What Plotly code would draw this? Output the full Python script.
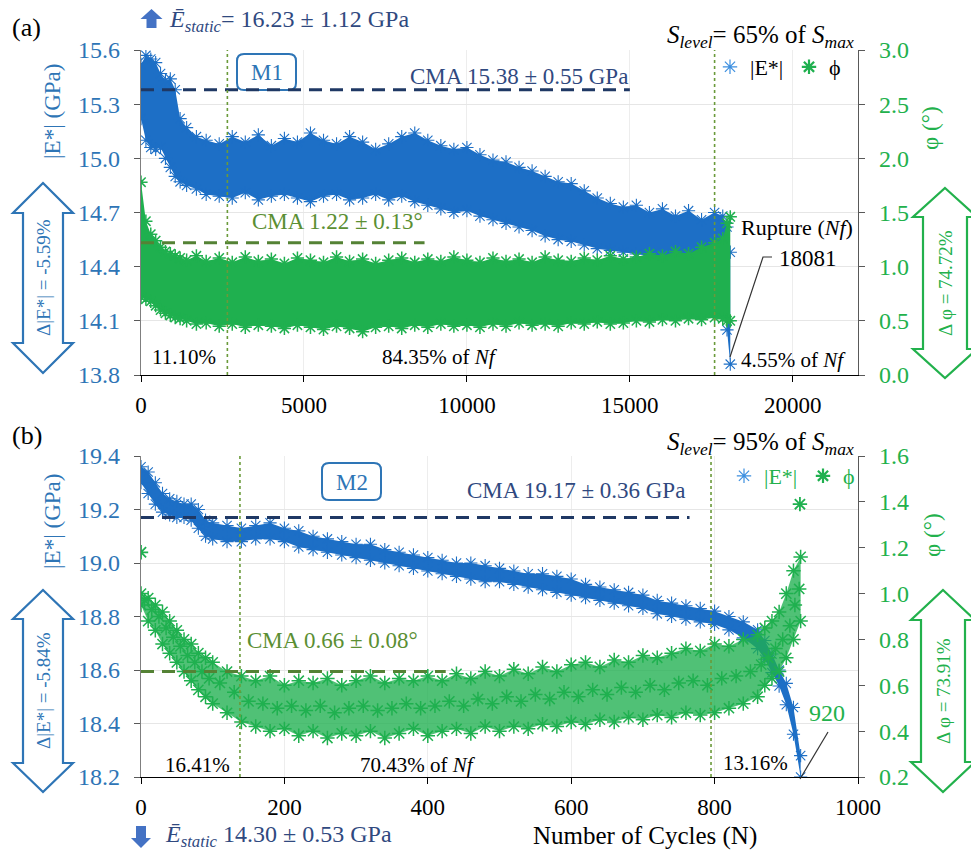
import plotly.graph_objects as go

SERIF = "Liberation Serif, Times New Roman, serif"
W, H = 971, 855

# ---------------- panel (a): S_level = 65 % ----------------
cycles_a = [0, 150, 300, 450, 600, 750, 900, 1050, 1200, 1400, 1700, 2000,
            2400, 2800, 3200, 3600, 4000, 4400, 4800, 5200, 5600, 6000, 6400, 6800,
            7200, 7600, 8000, 8400, 8800, 9200, 9600, 10000, 10400, 10800, 11200,
            11600, 12000, 12400, 12800, 13200, 13600, 14000, 14400, 14800, 15200,
            15600, 16000, 16400, 16800, 17200, 17600, 17850, 17980, 18081]
e_top_a = [15.52, 15.57, 15.55, 15.53, 15.47, 15.43, 15.44, 15.38, 15.22, 15.17, 15.12, 15.10,
           15.08, 15.12, 15.09, 15.13, 15.07, 15.11, 15.09, 15.14, 15.10, 15.08, 15.12, 15.09,
           15.05, 15.08, 15.12, 15.14, 15.10, 15.07, 15.05, 15.06, 15.02, 14.99, 14.98,
           14.95, 14.93, 14.90, 14.87, 14.86, 14.82, 14.78, 14.75, 14.73, 14.74,
           14.70, 14.72, 14.68, 14.71, 14.66, 14.70, 14.68, 14.62, 14.48]
e_bot_a = [15.22, 15.10, 15.06, 15.05, 15.06, 15.00, 14.95, 14.90, 14.87, 14.85, 14.83, 14.80,
           14.79, 14.78, 14.81, 14.77, 14.79, 14.80, 14.78, 14.76, 14.79, 14.80, 14.77, 14.78,
           14.80, 14.77, 14.79, 14.76, 14.74, 14.72, 14.70, 14.71, 14.68, 14.66, 14.64,
           14.62, 14.60, 14.57, 14.55, 14.54, 14.52, 14.50, 14.49, 14.48, 14.47,
           14.46, 14.45, 14.46, 14.44, 14.45, 14.43, 14.42, 14.05, 13.86]
phi_top_a = [1.78, 1.42, 1.30, 1.24, 1.18, 1.14, 1.12, 1.10, 1.08, 1.06, 1.10, 1.05,
             1.08, 1.04, 1.09, 1.05, 1.07, 1.03, 1.08, 1.06, 1.04, 1.09, 1.05, 1.07,
             1.03, 1.06, 1.08, 1.04, 1.07, 1.05, 1.09, 1.06, 1.04, 1.08, 1.05,
             1.07, 1.04, 1.09, 1.06, 1.05, 1.08, 1.06, 1.10, 1.07, 1.09,
             1.12, 1.10, 1.14, 1.12, 1.18, 1.22, 1.26, 1.40, 1.46]
phi_bot_a = [0.72, 0.70, 0.68, 0.64, 0.60, 0.57, 0.55, 0.53, 0.52, 0.50, 0.47, 0.48,
             0.45, 0.47, 0.44, 0.46, 0.45, 0.43, 0.46, 0.44, 0.42, 0.45, 0.43, 0.40,
             0.44, 0.45, 0.43, 0.46, 0.44, 0.47, 0.45, 0.46, 0.44, 0.47, 0.45,
             0.48, 0.46, 0.47, 0.45, 0.48, 0.47, 0.49, 0.47, 0.48, 0.50,
             0.49, 0.51, 0.50, 0.52, 0.51, 0.53, 0.52, 0.50, 0.50]

# ---------------- panel (b): S_level = 95 % ----------------
cycles_b = [0, 10, 20, 30, 40, 50, 60, 70, 80, 90, 100,
            120, 140, 160, 180, 200, 220, 240, 260, 280, 300, 320, 340, 360, 380, 400,
            420, 440, 460, 480, 500, 520, 540, 560, 580, 600, 620, 640, 660, 680, 700,
            720, 740, 760, 780, 800, 820, 840, 860,
            870, 880, 890, 900, 910, 920]
e_top_b = [19.36, 19.34, 19.30, 19.26, 19.24, 19.23, 19.22, 19.22, 19.20, 19.16, 19.15,
           19.14, 19.13, 19.14, 19.15, 19.13, 19.12, 19.10, 19.09, 19.08, 19.07, 19.07, 19.05, 19.04, 19.03, 19.02,
           19.01, 19.00, 19.00, 18.99, 18.98, 18.97, 18.96, 18.96, 18.95, 18.94, 18.92, 18.91, 18.90, 18.89, 18.88,
           18.86, 18.85, 18.84, 18.83, 18.82, 18.80, 18.78, 18.75,
           18.71, 18.66, 18.60, 18.55, 18.46, 18.28]
e_bot_b = [19.30, 19.26, 19.22, 19.19, 19.18, 19.17, 19.17, 19.16, 19.13, 19.10, 19.09,
           19.08, 19.08, 19.09, 19.09, 19.08, 19.06, 19.05, 19.04, 19.03, 19.02, 19.01, 19.00, 18.99, 18.98, 18.97,
           18.96, 18.95, 18.94, 18.93, 18.93, 18.92, 18.91, 18.90, 18.89, 18.88, 18.87, 18.86, 18.85, 18.84, 18.83,
           18.81, 18.80, 18.79, 18.78, 18.77, 18.75, 18.72, 18.68,
           18.64, 18.59, 18.54, 18.47, 18.36, 18.20]
phi_top_b = [1.00, 0.98, 0.95, 0.92, 0.88, 0.84, 0.80, 0.78, 0.74, 0.72, 0.70,
             0.66, 0.64, 0.62, 0.64, 0.60, 0.62, 0.61, 0.63, 0.60, 0.62, 0.64, 0.61, 0.63, 0.62, 0.64,
             0.62, 0.65, 0.63, 0.66, 0.64, 0.67, 0.65, 0.68, 0.66, 0.69, 0.70, 0.68, 0.71, 0.70, 0.73,
             0.72, 0.74, 0.76, 0.75, 0.78, 0.77, 0.80, 0.82,
             0.85, 0.88, 0.92, 1.00, 1.10, 1.16]
phi_bot_b = [0.95, 0.88, 0.84, 0.78, 0.74, 0.70, 0.66, 0.62, 0.58, 0.55, 0.52,
             0.48, 0.44, 0.42, 0.40, 0.41, 0.38, 0.40, 0.37, 0.39, 0.38, 0.40, 0.37, 0.39, 0.41, 0.38,
             0.40, 0.41, 0.39, 0.42, 0.40, 0.42, 0.41, 0.43, 0.42, 0.44, 0.43, 0.45, 0.44, 0.46, 0.45,
             0.47, 0.46, 0.48, 0.47, 0.48, 0.50, 0.52, 0.55,
             0.60, 0.63, 0.66, 0.72, 0.80, 0.88]
# readings from the interior of the phase-angle cloud
cycles_mid_b = [5, 15, 25, 35, 45, 55, 65, 75, 85, 95,
                110, 130, 150, 170, 190, 210, 230, 250, 270, 290, 310, 330, 350, 370, 390,
                410, 430, 450, 470, 490, 510, 530, 550, 570, 590, 610, 630, 650, 670, 690,
                710, 730, 750, 770, 790, 810, 830, 850,
                865, 875, 885, 895, 905, 912, 918]
phi_mid_b = [0.97, 0.93, 0.90, 0.85, 0.81, 0.77, 0.73, 0.70, 0.66, 0.63, 0.61,
             0.57, 0.53, 0.52, 0.50, 0.51, 0.49, 0.51, 0.48, 0.50, 0.51, 0.49, 0.50, 0.52, 0.50, 0.51,
             0.53, 0.51, 0.54, 0.52, 0.55, 0.53, 0.56, 0.54, 0.57, 0.55, 0.58, 0.56, 0.59, 0.57, 0.60,
             0.58, 0.61, 0.62, 0.60, 0.63, 0.64, 0.66, 0.69,
             0.72, 0.76, 0.80, 0.86, 0.95, 1.02]
phi_lone_x_b = [0, 919]
phi_lone_y_b = [1.18, 1.39]

# cyclic moving averages and the cycle counts that split the three phases
cma_e_a, cma_e_end_a = 15.38, 15000
cma_phi_a, cma_phi_end_a = 1.22, 8700
cma_e_b, cma_e_end_b = 19.17, 765
cma_phi_b, cma_phi_end_b = 0.66, 425
phase_marks_a = [2650, 17600]
phase_marks_b = [138, 795]

# ---------------- styling ----------------
BLUE = "#1d6fc6"
GREEN = "#1fb04f"
AX_BLUE = "#2e75b6"
AX_GREEN = "#22b14c"
NAVY = "#1f3864"
NAVY_TXT = "#30497f"
OLIVE = "#548235"
OLIVE_TXT = "#5b8f33"
DOT = "#6a9a3a"


def px(x):
    return x / W


def py(y):
    return 1 - y / H


def star(color, size=11, width=1.1):
    return dict(symbol="asterisk-open", size=size, color=color, line=dict(width=width, color=color))


def band(fig, x, lo, hi, color, xa, ya, fillcolor, size=11, width=1.1):
    """Filled envelope between the lower and upper scatter edges, plus the edge markers."""
    fig.add_trace(go.Scatter(x=x, y=lo, mode="lines", line=dict(width=0, color=color),
                             showlegend=False, xaxis=xa, yaxis=ya, hoverinfo="skip"))
    fig.add_trace(go.Scatter(x=x, y=hi, mode="lines", line=dict(width=0, color=color),
                             fill="tonexty", fillcolor=fillcolor, showlegend=False,
                             xaxis=xa, yaxis=ya, hoverinfo="skip"))
    for edge in (lo, hi):
        fig.add_trace(go.Scatter(x=x, y=edge, mode="markers", marker=star(color, size, width),
                                 showlegend=False, xaxis=xa, yaxis=ya, hoverinfo="skip"))


fig = go.Figure()

# panel (a)
band(fig, cycles_a, e_bot_a, e_top_a, BLUE, "x", "y", BLUE)
band(fig, cycles_a, phi_bot_a, phi_top_a, GREEN, "x", "y2", GREEN, width=1.5)
fig.add_trace(go.Scatter(x=[0, cma_e_end_a], y=[cma_e_a, cma_e_a], mode="lines",
                         line=dict(color=NAVY, width=3, dash="13px,8px"),
                         showlegend=False, xaxis="x", yaxis="y"))
fig.add_trace(go.Scatter(x=[0, cma_phi_end_a], y=[cma_phi_a, cma_phi_a], mode="lines",
                         line=dict(color=OLIVE, width=3, dash="13px,8px"),
                         showlegend=False, xaxis="x", yaxis="y2"))

# panel (b)
band(fig, cycles_b, e_bot_b, e_top_b, BLUE, "x2", "y3", BLUE)
band(fig, cycles_b, phi_bot_b, phi_top_b, GREEN, "x2", "y4", "rgba(31,176,79,0.78)", size=12, width=1.5)
fig.add_trace(go.Scatter(x=cycles_mid_b, y=phi_mid_b, mode="markers", marker=star(GREEN, 12, 1.5),
                         showlegend=False, xaxis="x2", yaxis="y4", hoverinfo="skip"))
fig.add_trace(go.Scatter(x=phi_lone_x_b, y=phi_lone_y_b, mode="markers", marker=star(GREEN, 12, 1.8),
                         showlegend=False, xaxis="x2", yaxis="y4"))
fig.add_trace(go.Scatter(x=[0, cma_e_end_b], y=[cma_e_b, cma_e_b], mode="lines",
                         line=dict(color=NAVY, width=3, dash="13px,8px"),
                         showlegend=False, xaxis="x2", yaxis="y3"))
fig.add_trace(go.Scatter(x=[0, cma_phi_end_b], y=[cma_phi_b, cma_phi_b], mode="lines",
                         line=dict(color=OLIVE, width=3, dash="13px,8px"),
                         showlegend=False, xaxis="x2", yaxis="y4"))

# legend entries
for lg, xa, ya1, ya2 in (("legend", "x", "y", "y2"), ("legend2", "x2", "y3", "y4")):
    fig.add_trace(go.Scatter(x=[None], y=[None], mode="markers", name="|E*|", legend=lg,
                             marker=star("#3c8fe0", 12, 1.2), xaxis=xa, yaxis=ya1))
    fig.add_trace(go.Scatter(x=[None], y=[None], mode="markers", name="ϕ", legend=lg,
                             marker=star(GREEN, 12, 2.2), xaxis=xa, yaxis=ya2))

x_common = dict(ticks="outside", ticklen=6, tickcolor="black", showline=True, linecolor="black",
                linewidth=1.2, showgrid=True, gridcolor="#ededed", zeroline=False, automargin=False,
                tickfont=dict(family=SERIF, size=23, color="black"), tickformat="d",
                ticklabelstandoff=3)
yl_common = dict(ticks="outside", ticklen=6, tickcolor="#595959", showline=True, linecolor="#7f7f7f",
                 linewidth=1.2, showgrid=True, gridcolor="#e6e6e6", zeroline=False, automargin=False,
                 tickfont=dict(family=SERIF, size=24, color=AX_BLUE), tickformat=".1f",
                 ticklabelstandoff=9)
yr_common = dict(ticks="outside", ticklen=6, tickcolor="#595959", showline=True, linecolor="#595959",
                 linewidth=1.2, showgrid=False, zeroline=False, automargin=False,
                 tickfont=dict(family=SERIF, size=24, color=AX_GREEN), tickformat=".1f",
                 ticklabelstandoff=9)

legend_common = dict(xanchor="left", yanchor="top", orientation="h", bgcolor="rgba(0,0,0,0)",
                     itemwidth=30, itemclick=False, itemdoubleclick=False, traceorder="normal",
                     entrywidth=34, entrywidthmode="pixels")

fig.update_layout(
    width=W, height=H, margin=dict(l=0, r=0, t=0, b=0, pad=0), autosize=False,
    paper_bgcolor="white", plot_bgcolor="white",
    xaxis=dict(x_common, domain=[px(141), px(858)], anchor="y", range=[0, 22000],
               tickvals=[0, 5000, 10000, 15000, 20000]),
    yaxis=dict(yl_common, domain=[py(375), py(50)], anchor="x", range=[13.8, 15.6],
               tickvals=[13.8, 14.1, 14.4, 14.7, 15.0, 15.3, 15.6]),
    yaxis2=dict(yr_common, overlaying="y", side="right", anchor="x", range=[0, 3],
                tickvals=[0, 0.5, 1.0, 1.5, 2.0, 2.5, 3.0]),
    xaxis2=dict(x_common, domain=[px(141), px(858)], anchor="y3", range=[0, 1000],
                tickvals=[0, 200, 400, 600, 800, 1000]),
    yaxis3=dict(yl_common, domain=[py(777), py(456)], anchor="x2", range=[18.2, 19.4],
                tickvals=[18.2, 18.4, 18.6, 18.8, 19.0, 19.2, 19.4]),
    yaxis4=dict(yr_common, overlaying="y3", side="right", anchor="x2", range=[0.2, 1.6],
                tickvals=[0.2, 0.4, 0.6, 0.8, 1.0, 1.2, 1.4, 1.6]),
    legend=dict(legend_common, x=px(710), y=py(46),
                font=dict(family=SERIF, size=22, color="black")),
    legend2=dict(legend_common, x=px(724), y=py(455),
                 font=dict(family=SERIF, size=22, color=AX_GREEN)),
    showlegend=True,
)


def note(x, y, text, size=22, color="black", xanchor="center", angle=0):
    return dict(x=px(x), y=py(y), xref="paper", yref="paper", text=text, showarrow=False,
                font=dict(family=SERIF, size=size, color=color), xanchor=xanchor,
                yanchor="middle", textangle=angle)


E_BAR = "<i>Ē</i><sub><i>static</i></sub>"
S_LVL = "<i>S</i><sub><i>level</i></sub>"
S_MAX = "<i>S</i><sub><i>max</i></sub>"

notes = [
    note(10, 28, "(a)", 26, xanchor="left"),
    note(167, 21, E_BAR + "= 16.23 ± 1.12 GPa", 24, NAVY_TXT, "left"),
    note(856, 37, S_LVL + "= 65% of " + S_MAX, 25, "black", "right"),
    note(267, 72, "M1", 23, AX_BLUE),
    note(408, 77, "CMA 15.38 ± 0.55 GPa", 23, NAVY_TXT, "left"),
    note(250, 222, "CMA 1.22 ± 0.13°", 23, OLIVE_TXT, "left"),
    note(184, 357, "11.10%", 21),
    note(440, 357, "84.35% of <i>Nf</i>", 21),
    note(793, 360, "4.55% of <i>Nf</i>", 21),
    note(797, 228, "Rupture (<i>Nf</i>)", 22),
    note(808, 258, "18081", 23),
    note(52, 112, "|E*| (GPa)", 23, AX_BLUE, angle=-90),
    note(931, 128, "φ (°)", 23, AX_GREEN, angle=-90),
    note(43, 278, "Δ|E*| = -5.59%", 19, AX_BLUE, angle=-90),
    note(945, 283, "Δ φ = 74.72%", 19, AX_GREEN, angle=-90),

    note(10, 435, "(b)", 26, xanchor="left"),
    note(856, 444, S_LVL + "= 95% of " + S_MAX, 25, "black", "right"),
    note(352, 482, "M2", 23, AX_BLUE),
    note(465, 490, "CMA 19.17 ± 0.36 GPa", 23, NAVY_TXT, "left"),
    note(245, 640, "CMA 0.66 ± 0.08°", 23, OLIVE_TXT, "left"),
    note(197, 765, "16.41%", 21),
    note(418, 765, "70.43% of <i>Nf</i>", 21),
    note(755, 763, "13.16%", 21),
    note(827, 713, "920", 24, AX_GREEN),
    note(52, 522, "|E*| (GPa)", 23, AX_BLUE, angle=-90),
    note(932, 535, "φ (°)", 23, AX_GREEN, angle=-90),
    note(43, 691, "Δ|E*| = -5.84%", 19, AX_BLUE, angle=-90),
    note(943, 691, "Δ φ = 73.91%", 19, AX_GREEN, angle=-90),
    note(163, 836, E_BAR + " 14.30 ± 0.53 GPa", 24, NAVY_TXT, "left"),
    note(645, 836, "Number of Cycles (N)", 25),
]


def path(points, close=True):
    s = "M " + " L ".join(f"{px(x):.5f},{py(y):.5f}" for x, y in points)
    return s + (" Z" if close else "")


def double_arrow(cx, top, bottom, head_half, shaft_half, head_len, color):
    pts = [(cx, top), (cx + head_half, top + head_len), (cx + shaft_half, top + head_len),
           (cx + shaft_half, bottom - head_len), (cx + head_half, bottom - head_len), (cx, bottom),
           (cx - head_half, bottom - head_len), (cx - shaft_half, bottom - head_len),
           (cx - shaft_half, top + head_len), (cx - head_half, top + head_len)]
    return dict(type="path", xref="paper", yref="paper", path=path(pts),
                line=dict(color=color, width=2.2), fillcolor="rgba(0,0,0,0)", layer="above")


def rounded_box(x0, y0, x1, y1, r, color):
    p = (f"M {px(x0 + r)},{py(y0)} L {px(x1 - r)},{py(y0)} Q {px(x1)},{py(y0)} {px(x1)},{py(y0 + r)} "
         f"L {px(x1)},{py(y1 - r)} Q {px(x1)},{py(y1)} {px(x1 - r)},{py(y1)} "
         f"L {px(x0 + r)},{py(y1)} Q {px(x0)},{py(y1)} {px(x0)},{py(y1 - r)} "
         f"L {px(x0)},{py(y0 + r)} Q {px(x0)},{py(y0)} {px(x0 + r)},{py(y0)} Z")
    return dict(type="path", xref="paper", yref="paper", path=p,
                line=dict(color=color, width=2), fillcolor="white", layer="below")


def block_arrow(cx, tip, tail, head_half, shaft_half, head_len, color):
    d = 1 if tail > tip else -1
    base = tip + d * head_len
    pts = [(cx, tip), (cx + head_half, base), (cx + shaft_half, base), (cx + shaft_half, tail),
           (cx - shaft_half, tail), (cx - shaft_half, base), (cx - head_half, base)]
    return dict(type="path", xref="paper", yref="paper", path=path(pts),
                line=dict(color=color, width=0), fillcolor=color, layer="above")


shapes = [
    double_arrow(43, 183, 373, 30, 20, 30, AX_BLUE),
    double_arrow(945, 188, 378, 32, 22, 29, AX_GREEN),
    double_arrow(43, 590, 792, 30, 20, 29, AX_BLUE),
    double_arrow(943, 590, 792, 32, 22, 30, AX_GREEN),
    rounded_box(237, 54, 296, 90, 7, AX_BLUE),
    rounded_box(322, 463, 381, 500, 7, AX_BLUE),
    block_arrow(151.5, 9, 28, 11, 5, 10, "#4472c4"),
    block_arrow(141, 848, 826, 10, 5, 10, "#4472c4"),
    dict(type="path", xref="paper", yref="paper", path=path([(730, 357), (763, 257), (772, 257)], False),
         line=dict(color="#333333", width=1.2), layer="above"),
    dict(type="path", xref="paper", yref="paper", path=path([(800, 779), (828, 732)], False),
         line=dict(color="#333333", width=1.2), layer="above"),
]
for v in phase_marks_a:
    shapes.append(dict(type="line", xref="x", yref="y domain", x0=v, x1=v, y0=0, y1=1,
                       line=dict(color=DOT, width=1.6, dash="dot"), layer="above"))
for v in phase_marks_b:
    shapes.append(dict(type="line", xref="x2", yref="y3 domain", x0=v, x1=v, y0=0, y1=1,
                       line=dict(color=DOT, width=1.6, dash="dot"), layer="above"))

fig.update_layout(annotations=notes, shapes=shapes)
fig.write_html("out.html")
